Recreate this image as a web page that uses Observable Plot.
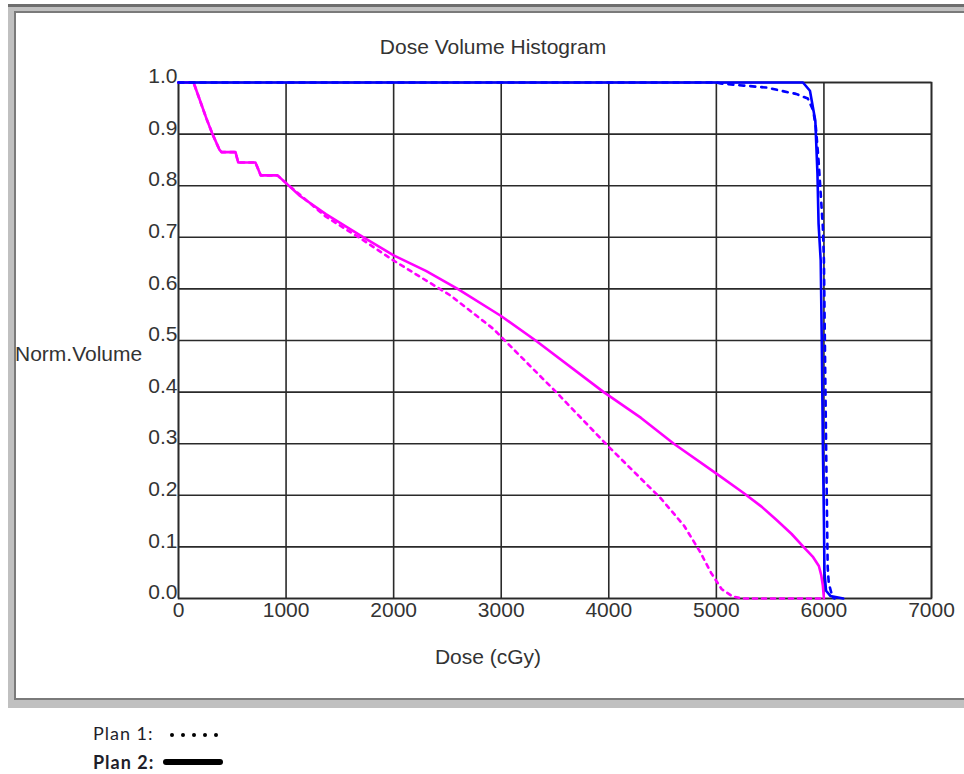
<!DOCTYPE html>
<html><head><meta charset="utf-8">
<script src="https://cdn.jsdelivr.net/npm/d3@7"></script>
<script src="https://cdn.jsdelivr.net/npm/@observablehq/plot@0.6"></script>
<style>
body{margin:0;background:#fff;width:964px;height:774px;position:relative;overflow:hidden;font-family:"Liberation Sans",Arial,sans-serif}
#outer{position:absolute;left:8px;top:4px;width:956px;height:704px;background:#c0c0c0;border-top:3px solid #6e6e6e;box-sizing:border-box}
#inner{position:absolute;left:14px;top:11px;width:950px;height:689px;background:#fff;border-left:2px solid #7a7a7a;border-top:2px solid #7a7a7a;border-bottom:2px solid #7a7a7a;box-sizing:border-box}
#chart{position:absolute;left:0;top:0}
.leg{position:absolute;left:93px;font-family:Lato,"Open Sans",sans-serif;font-size:18px;line-height:18px;color:#1e1e2a;letter-spacing:1px}
.dot{position:absolute;width:4px;height:4px;border-radius:2px;background:#000}
#bar{position:absolute;left:163px;top:759px;width:60px;height:6px;border-radius:3px;background:#000}
</style></head>
<body>
<div id="outer"></div>
<div id="inner"></div>
<div id="chart"></div>
<div class="leg" style="top:724px">Plan 1:</div>
<div id="dots"></div>
<div class="leg" style="top:753px;font-weight:bold">Plan 2:</div>
<div id="bar"></div>
<script>
// ---- data ----
const xTicks = [0,1000,2000,3000,4000,5000,6000,7000];
const yTicks = [0,0.1,0.2,0.3,0.4,0.5,0.6,0.7,0.8,0.9,1.0];

// Plan 2 (solid), magenta structure
const p2MagDose = [0,140,200,260,316,380,400,530,555,715,765,920,1000,1130,1370,1720,2000,2300,2595,2995,3320,3953,4300,4605,5014,5250,5420,5560,5700,5814,5900,5953,5975,5990,6000];
const p2MagVol  = [1.0,1.0,0.965,0.93,0.9,0.87,0.865,0.865,0.845,0.845,0.82,0.82,0.805,0.78,0.745,0.70,0.665,0.635,0.60,0.548,0.50,0.40,0.35,0.30,0.240,0.205,0.178,0.152,0.125,0.099,0.08,0.063,0.045,0.025,0.0];
// Plan 1 (dotted), magenta structure
const p1MagDose = [0,140,200,260,316,380,400,530,555,715,765,920,1000,1370,1720,2000,2530,2930,2995,3525,3990,4484,4700,4850,4950,5050,5150,5250,6000];
const p1MagVol  = [1.0,1.0,0.965,0.93,0.9,0.87,0.865,0.865,0.845,0.845,0.82,0.82,0.805,0.74,0.694,0.655,0.587,0.522,0.508,0.397,0.296,0.194,0.141,0.09,0.05,0.018,0.004,0.0,0.0];
// Plan 2 (solid), blue structure
const p2BlueDose = [0,5805,5870,5920,5940,5950,5970,5980,5990,6000,6005,6020,6060,6180];
const p2BlueVol  = [1.0,1.0,0.984,0.926,0.823,0.727,0.655,0.5,0.3,0.15,0.05,0.015,0.005,0.0];
// Plan 1 (dotted), blue structure
const p1BlueDose = [0,5000,5040,5255,5475,5600,5740,5850,5900,5925,5950,5970,5990,6000,6020,6035,6045,6080,6100];
const p1BlueVol  = [1.0,1.0,0.998,0.994,0.99,0.984,0.978,0.969,0.946,0.913,0.849,0.785,0.719,0.655,0.3,0.06,0.03,0.002,0.0];

const rows = (xs, ys) => xs.map((d,i) => ({dose:d, vol:ys[i]}));

const FONT = "'Liberation Sans', Arial, sans-serif";
const grid = {stroke:"#2a2a2a", strokeOpacity:1, strokeWidth:1.6};
const chart = Plot.plot({
  width:964, height:700,
  marginLeft:178, marginRight:33, marginTop:82, marginBottom:102,
  style:{background:"transparent", fontFamily:FONT, fontSize:"21px", color:"#333", overflow:"visible"},
  x:{domain:[0,7000]},
  y:{domain:[0,1]},
  marks:[
    Plot.gridX(xTicks, grid),
    Plot.gridY(yTicks, grid),
    Plot.frame({stroke:"#2a2a2a", strokeWidth:1.6}),
    Plot.axisX(xTicks, {tickSize:0, tickPadding:4, label:null, tickFormat:d=>String(d), fill:"#333"}),
    Plot.axisY(yTicks, {tickSize:0, tickPadding:1, label:null, tickFormat:d=>d.toFixed(1), dy:-6, fill:"#333"}),
    Plot.line(rows(p1MagDose,p1MagVol), {x:"dose", y:"vol", stroke:"#ff00ff", strokeWidth:2.6, strokeDasharray:"4,5"}),
    Plot.line(rows(p2MagDose,p2MagVol), {x:"dose", y:"vol", stroke:"#ff00ff", strokeWidth:2.6}),
    Plot.line(rows(p1BlueDose,p1BlueVol), {x:"dose", y:"vol", stroke:"#0000ff", strokeWidth:2.6, strokeDasharray:"5,6"}),
    Plot.line(rows(p2BlueDose,p2BlueVol), {x:"dose", y:"vol", stroke:"#0000ff", strokeWidth:2.6})
  ]
});
document.getElementById("chart").appendChild(chart);
const svg = d3.select(chart);
const txt = (x, y, s, anchor) => svg.append("text").attr("x",x).attr("y",y).attr("text-anchor",anchor)
  .attr("fill","#333").attr("font-size",21).attr("font-family",FONT).text(s);
txt(493, 54, "Dose Volume Histogram", "middle");
txt(15, 361, "Norm.Volume", "start");
txt(488, 664, "Dose (cGy)", "middle");

// legend dots
const dots = document.getElementById("dots");
for (let i = 0; i < 5; i++) {
  const d = document.createElement("div");
  d.className = "dot";
  d.style.left = (170 + i*11) + "px";
  d.style.top = "733px";
  dots.appendChild(d);
}
</script>
</body></html>
